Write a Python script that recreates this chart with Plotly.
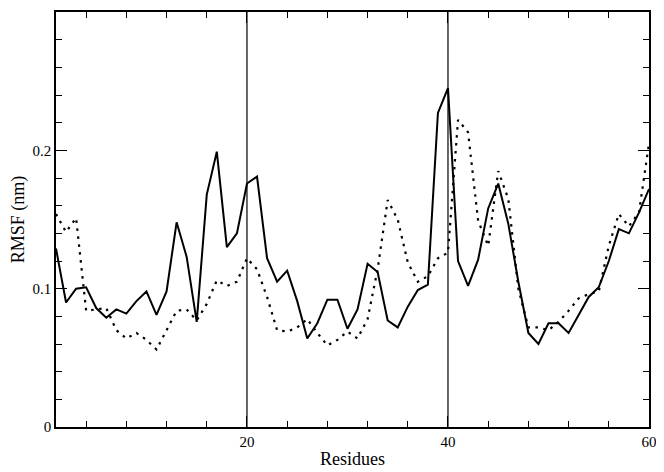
import plotly.graph_objects as go

# residue numbers and RMSF values (nm)
residues = list(range(1, 61))

rmsf_solid = [
    0.129, 0.090, 0.100, 0.101, 0.086, 0.079, 0.085, 0.082, 0.091, 0.098,
    0.081, 0.098, 0.148, 0.123, 0.076, 0.168, 0.199, 0.130, 0.140, 0.176,
    0.181, 0.122, 0.105, 0.113, 0.091, 0.064, 0.075, 0.092, 0.092, 0.071,
    0.085, 0.118, 0.112, 0.077, 0.072, 0.087, 0.099, 0.103, 0.227, 0.245,
    0.120, 0.102, 0.121, 0.158, 0.176, 0.147, 0.105, 0.068, 0.060, 0.075,
    0.075, 0.068, 0.081, 0.094, 0.101, 0.120, 0.143, 0.140, 0.155, 0.172,
]

rmsf_dotted = [
    0.154, 0.141, 0.151, 0.084, 0.085, 0.086, 0.070, 0.064, 0.068, 0.063,
    0.056, 0.070, 0.084, 0.085, 0.077, 0.089, 0.106, 0.102, 0.105, 0.122,
    0.114, 0.094, 0.070, 0.069, 0.072, 0.078, 0.068, 0.059, 0.063, 0.069,
    0.064, 0.078, 0.114, 0.164, 0.150, 0.119, 0.105, 0.109, 0.122, 0.126,
    0.222, 0.213, 0.149, 0.131, 0.185, 0.165, 0.100, 0.072, 0.072, 0.070,
    0.076, 0.084, 0.093, 0.096, 0.098, 0.131, 0.154, 0.145, 0.155, 0.205,
]

marker_residues = [20, 40]

x_ticks = [20, 40, 60]
y_ticks = [0, 0.1, 0.2]
y_tick_labels = ['0', '0.1', '0.2']

fig = go.Figure()
fig.add_trace(go.Scatter(x=residues, y=rmsf_dotted, mode='lines',
                         line=dict(color='black', width=2.2, dash='2.5px,5.5px'),
                         showlegend=False))
fig.add_trace(go.Scatter(x=residues, y=rmsf_solid, mode='lines',
                         line=dict(color='black', width=2),
                         showlegend=False))

for r in marker_residues:
    fig.add_vline(x=r, line=dict(color='black', width=1.2), opacity=1,
                  layer='above')

font = dict(family='Liberation Serif', size=15, color='black')

# page body has an 8px margin, so the figure is a bit smaller than the window
fig.update_layout(
    template='simple_white',
    width=656, height=464,
    margin=dict(l=48, r=15, t=4, b=45),
    plot_bgcolor='white', paper_bgcolor='white',
    font=font,
    xaxis=dict(
        range=[1, 60], tickvals=x_ticks, ticks='inside', ticklen=11,
        tickwidth=1.2, tickcolor='black', showline=True, linecolor='black',
        linewidth=1.5, mirror='allticks', showgrid=False, zeroline=False,
        automargin=False,
        title=dict(text='Residues', standoff=4),
        minor=dict(dtick=4, tick0=0, ticks='inside', ticklen=6,
                   tickwidth=1.2, tickcolor='black', showgrid=False),
    ),
    yaxis=dict(
        range=[0, 0.3], tickvals=y_ticks, ticktext=y_tick_labels,
        ticks='inside', ticklen=11, tickwidth=1.2, tickcolor='black',
        showline=True, linecolor='black', linewidth=1.5,
        mirror='allticks', showgrid=False, zeroline=False, automargin=False,
        title=dict(text='RMSF (nm)', standoff=6),
        minor=dict(dtick=0.02, tick0=0, ticks='inside', ticklen=6,
                   tickwidth=1.2, tickcolor='black', showgrid=False),
    ),
)

fig.write_html("out.html")
